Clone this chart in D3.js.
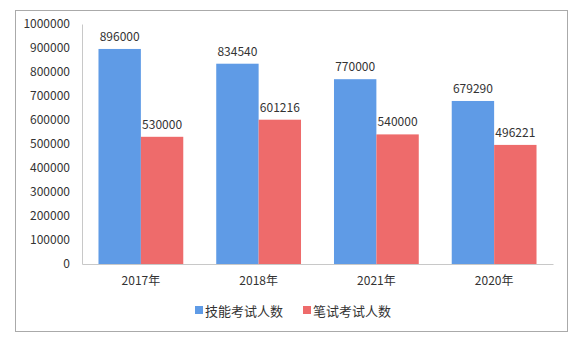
<!DOCTYPE html>
<html><head><meta charset="utf-8">
<script src="https://cdn.jsdelivr.net/npm/d3@7"></script>
<style>body{margin:0;background:#fff;}svg{display:block;}</style>
</head><body>
<script>
const categories = ["2017年","2018年","2021年","2020年"];
const seriesNames = ["技能考试人数","笔试考试人数"];
const skillValues = [896000, 834540, 770000, 679290];
const writtenValues = [530000, 601216, 540000, 496221];
const yTicks = [0,100000,200000,300000,400000,500000,600000,700000,800000,900000,1000000];
const colors = ["#5f9be6","#ee6b6b"];

(function(){
const W=588,H=345;
const svg=d3.select("body").append("svg").attr("width",W).attr("height",H);
const font="'Noto Sans CJK SC','Noto Sans',sans-serif";
svg.append("rect").attr("x",15.5).attr("y",10.5).attr("width",552).attr("height",321)
  .attr("fill","#fff").attr("stroke","#aaa").attr("stroke-width",1);

const mL=82,mR=553,mT=24,mB=264;
const x=d3.scaleBand().domain(categories).range([mL,mR]).paddingInner(0.28).paddingOuter(0.14);
const x1=d3.scaleBand().domain([0,1]).range([0,x.bandwidth()]);
const y=d3.scaleLinear().domain([0,1000000]).range([mB,mT]);

const ya=svg.append("g").attr("transform",`translate(${mL},0)`)
  .call(d3.axisLeft(y).tickValues(yTicks).tickSize(0).tickPadding(12).tickFormat(d3.format("d")));
ya.select(".domain").attr("stroke","#c8c8c8");
ya.selectAll("text").attr("font-family",font).attr("font-size",12).attr("fill","#333");

const xa=svg.append("g").attr("transform",`translate(0,${mB})`)
  .call(d3.axisBottom(x).tickSize(0).tickPadding(12));
xa.select(".domain").attr("stroke","#c8c8c8");
xa.selectAll("text").attr("font-family",font).attr("font-size",12).attr("fill","#333");

const data=categories.map((c,i)=>({c,v:[skillValues[i],writtenValues[i]]}));
const g=svg.append("g");
data.forEach(d=>{
  d.v.forEach((v,k)=>{
    g.append("rect").attr("x",x(d.c)+x1(k)).attr("y",y(v)).attr("width",x1.bandwidth())
      .attr("height",mB-y(v)).attr("fill",colors[k]);
    g.append("text").attr("x",x(d.c)+x1(k)+x1.bandwidth()/2).attr("y",y(v)-8)
      .attr("text-anchor","middle").attr("font-family",font).attr("font-size",12).attr("fill","#333").text(v);
  });
});

const lx=[195,303];
seriesNames.forEach((n,k)=>{
  svg.append("rect").attr("x",lx[k]).attr("y",306).attr("width",8).attr("height",8).attr("fill",colors[k]);
  svg.append("text").attr("x",lx[k]+10).attr("y",310).attr("dominant-baseline","central")
    .attr("font-family",font).attr("font-size",13).attr("fill","#333").text(n);
});
})();
</script>
</body></html>
